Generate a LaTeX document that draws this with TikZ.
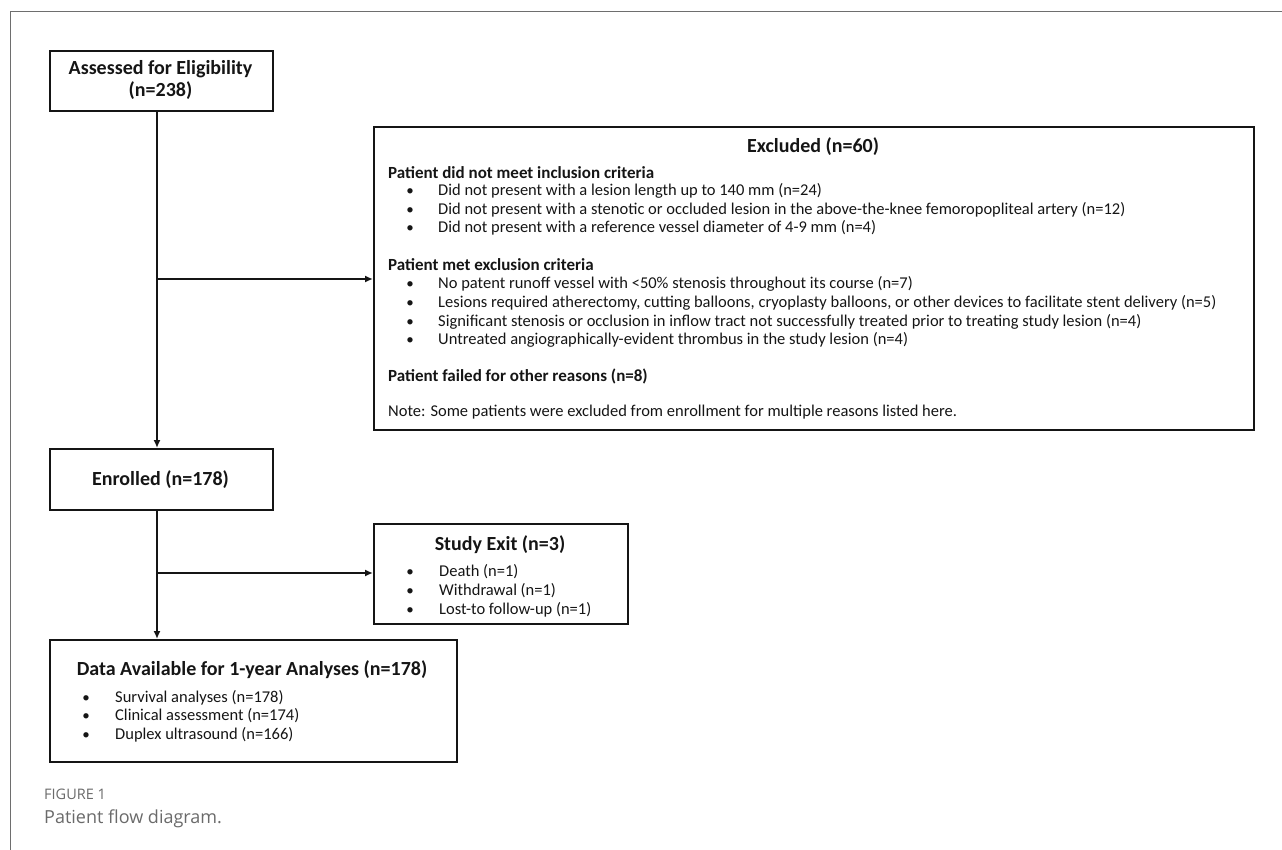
\documentclass[tikz,border=0pt]{standalone}
\usepackage{fontspec}
\setmainfont{Carlito}
\newfontfamily\capfont{Open Sans}
\usetikzlibrary{arrows.meta}
\definecolor{framegray}{HTML}{6E6E6E}
\definecolor{capgray}{HTML}{6A6A6A}
\definecolor{ink}{HTML}{151515}
\tikzset{
  box/.style={draw=ink, line width=1.8pt, rectangle, anchor=north west, inner sep=0pt},
  ttl/.style={font=\fontsize{20}{24}\selectfont\bfseries, text=ink, anchor=base, inner sep=0pt},
  hd/.style={font=\fontsize{17}{20}\selectfont\bfseries, text=ink, anchor=base west, inner sep=0pt},
  txt/.style={font=\fontsize{16.5}{20}\selectfont, text=ink, anchor=base west, inner sep=0pt},
  bul/.style={font=\fontsize{15}{18}\selectfont, text=ink, anchor=base, inner sep=0pt},
  arr/.style={draw=ink, line width=1.8pt, -{Latex[length=8pt,width=7pt]}},
}
\begin{document}
\begin{tikzpicture}[x=1pt,y=-1pt]
\useasboundingbox (0,0) rectangle (1282,850);
% frame
\draw[framegray, line width=1pt] (10,850) -- (10,12) -- (1282,12);

% boxes
\node[box, minimum width=223pt, minimum height=60pt] (assess) at (49,50) {};
\node[box, minimum width=880pt, minimum height=303pt] (excl) at (373,126) {};
\node[box, minimum width=223pt, minimum height=61pt] (enroll) at (49,448) {};
\node[box, minimum width=254pt, minimum height=100pt] (exit) at (373,523) {};
\node[box, minimum width=407pt, minimum height=122pt] (data) at (49,639) {};

% connectors
\coordinate (j1) at (157,279);
\coordinate (j2) at (157,573);
\draw[arr] (assess.south -| j1) -- (enroll.north -| j1);
\draw[arr] (j1) -- (excl.west |- j1);
\draw[arr] (enroll.south -| j2) -- (data.north -| j2);
\draw[arr] (j2) -- (exit.west |- j2);

% Assessed
\node[ttl] (assessA) at (160.5,75) {Assessed for Eligibility};
\node[ttl] (assessB) at (160.5,97) {(n=238)};
% Enrolled
\node[ttl] (enrollT) at (160.5,485) {Enrolled (n=178)};

% Excluded
\node[ttl] (exclT) at (813,153) {Excluded (n=60)};
\node[hd] (h1) at (388,179) {Patient did not meet inclusion criteria};
\node[bul] (b11) at (410,196) {•};
\node[txt] (t11) at (438,196) {Did not present with a lesion length up to 140 mm (n=24)};
\node[bul] (b12) at (410,215) {•};
\node[txt] (t12) at (438,215) {Did not present with a stenotic or occluded lesion in the above-the-knee femoropopliteal artery (n=12)};
\node[bul] (b13) at (410,233) {•};
\node[txt] (t13) at (438,233) {Did not present with a reference vessel diameter of 4-9 mm (n=4)};
\node[hd] (h2) at (388,271) {Patient met exclusion criteria};
\node[bul] (b21) at (410,289) {•};
\node[txt] (t21) at (438,289) {No patent runoff vessel with <50\% stenosis throughout its course (n=7)};
\node[bul] (b22) at (410,307) {•};
\node[txt] (t22) at (438,307) {Lesions required atherectomy, cutting balloons, cryoplasty balloons, or other devices to facilitate stent delivery (n=5)};
\node[bul] (b23) at (410,326) {•};
\node[txt] (t23) at (438,326) {Significant stenosis or occlusion in inflow tract not successfully treated prior to treating study lesion (n=4)};
\node[bul] (b24) at (410,344) {•};
\node[txt] (t24) at (438,344) {Untreated angiographically-evident thrombus in the study lesion (n=4)};
\node[hd] (h3) at (388,381) {Patient failed for other reasons (n=8)};
\node[txt] (note) at (388,416) {Note: Some patients were excluded from enrollment for multiple reasons listed here.};

% Study exit
\node[ttl] (exitT) at (500,550) {Study Exit (n=3)};
\node[bul] (e1b) at (410,576) {•};
\node[txt] (e1) at (439,576) {Death (n=1)};
\node[bul] (e2b) at (410,595) {•};
\node[txt] (e2) at (439,595) {Withdrawal (n=1)};
\node[bul] (e3b) at (410,614) {•};
\node[txt] (e3) at (439,614) {Lost-to follow-up (n=1)};

% Data
\node[ttl] (dataT) at (252,675) {Data Available for 1-year Analyses (n=178)};
\node[bul] (d1b) at (86,702) {•};
\node[txt] (d1) at (115,702) {Survival analyses (n=178)};
\node[bul] (d2b) at (86,720) {•};
\node[txt] (d2) at (115,720) {Clinical assessment (n=174)};
\node[bul] (d3b) at (86,739) {•};
\node[txt] (d3) at (115,739) {Duplex ultrasound (n=166)};

% caption
\node[font=\capfont\fontsize{14.5}{17}\selectfont, text=capgray, anchor=base west, inner sep=0pt] (fig) at (44,799) {FIGURE 1};
\node[font=\capfont\fontsize{18}{21}\selectfont, text=capgray, anchor=base west, inner sep=0pt] (cap) at (44,823) {Patient flow diagram.};
\end{tikzpicture}
\end{document}
